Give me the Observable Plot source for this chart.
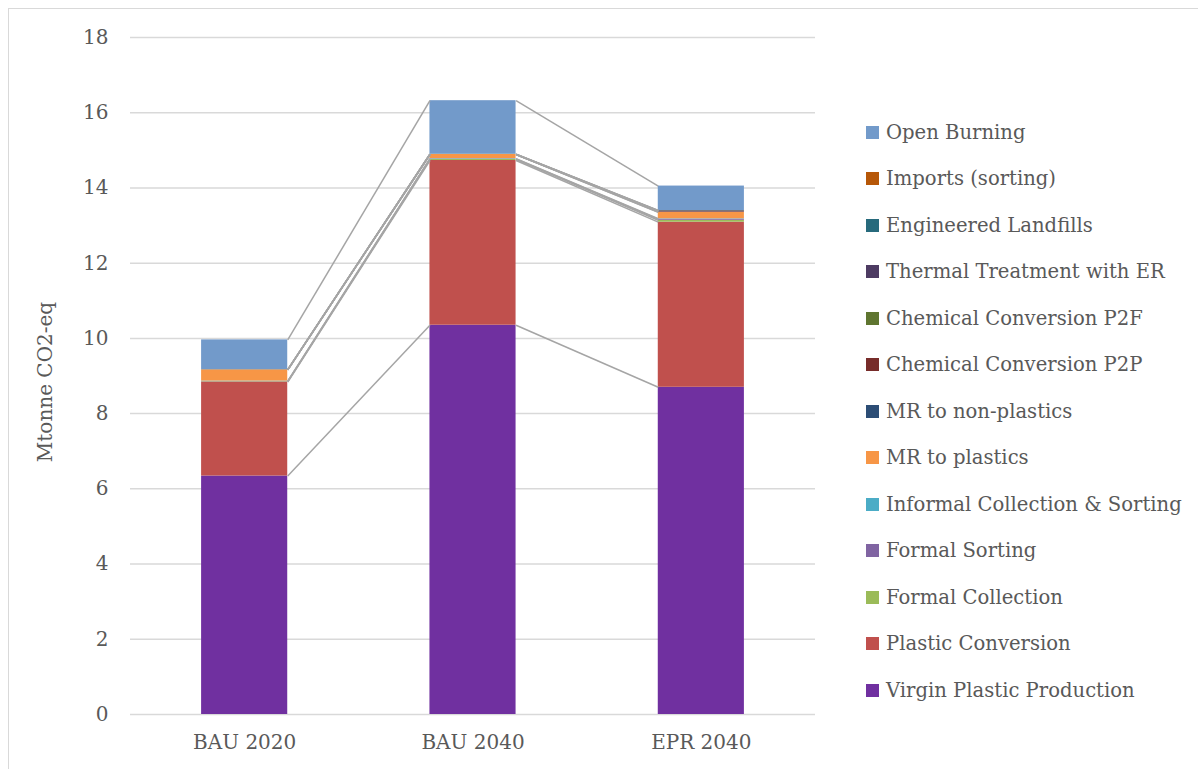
<!DOCTYPE html>
<html>
<head>
<meta charset="utf-8">
<script src="https://cdn.jsdelivr.net/npm/d3@7"></script>
<script src="https://cdn.jsdelivr.net/npm/@observablehq/plot@0.6"></script>
<style>
  html, body { margin: 0; padding: 0; background: #fff; }
  body { width: 1198px; height: 769px; position: relative; overflow: hidden; font-family: "DejaVu Serif", serif; }
  #frame { position: absolute; left: 8px; top: 8px; width: 1300px; height: 900px; border: 1px solid #d9d9d9; box-sizing: border-box; }
  #chart { position: absolute; left: 0; top: 0; }
  #legend { position: absolute; left: 0; top: 0; }
  .item { position: absolute; display: flex; align-items: center; white-space: nowrap; color: #595959; font-size: 19.6px; height: 26px; }
  .sw { width: 13px; height: 13px; margin-right: 7px; flex: none; }
</style>
</head>
<body>
<div id="frame"></div>
<div id="chart"></div>
<div id="legend"></div>
<script>
// ---- data ----
const categories = ["BAU 2020", "BAU 2040", "EPR 2040"];
const seriesNames = [
  "Virgin Plastic Production",
  "Plastic Conversion",
  "Formal Collection",
  "Formal Sorting",
  "Informal Collection & Sorting",
  "MR to plastics",
  "MR to non-plastics",
  "Chemical Conversion P2P",
  "Chemical Conversion P2F",
  "Thermal Treatment with ER",
  "Engineered Landfills",
  "Imports (sorting)",
  "Open Burning"
];
const virginPlasticProduction = [6.34, 10.35, 8.70];
const plasticConversion       = [2.50, 4.38, 4.39];
const formalCollection        = [0.01, 0.03, 0.05];
const formalSorting           = [0.005, 0.01, 0.03];
const informalCollection      = [0.01, 0.01, 0.01];
const mrToPlastics            = [0.30, 0.11, 0.17];
const mrToNonPlastics         = [0.0, 0.0, 0.01];
const chemicalP2P             = [0.0, 0.0, 0.03];
const chemicalP2F             = [0.0, 0.0, 0.0];
const thermalTreatmentER      = [0.0, 0.0, 0.0];
const engineeredLandfills     = [0.005, 0.01, 0.01];
const importsSorting          = [0.0, 0.0, 0.0];
const openBurning             = [0.79, 1.42, 0.65];
const seriesValues = [
  virginPlasticProduction, plasticConversion, formalCollection, formalSorting,
  informalCollection, mrToPlastics, mrToNonPlastics, chemicalP2P, chemicalP2F,
  thermalTreatmentER, engineeredLandfills, importsSorting, openBurning
];
const seriesColors = [
  "#7030a0", "#c0504d", "#9bbb59", "#8064a2", "#4bacc6", "#f79646",
  "#2c4d75", "#772c2a", "#5f7530", "#4d3b62", "#276a7c", "#b65708", "#729aca"
];
const yTicks = [0, 2, 4, 6, 8, 10, 12, 14, 16, 18];
const yLabel = "Mtonne CO2-eq";

// ---- derived tables ----
const barHalf = 0.1886; // half bar width, in category steps
const rects = [];
const tops = categories.map(() => []);
categories.forEach((c, i) => {
  let acc = 0;
  seriesNames.forEach((s, k) => {
    const v = seriesValues[k][i];
    rects.push({cat: i, series: s, y1: acc, y2: acc + v});
    acc += v;
    tops[i][k] = acc;
  });
});
const links = [];
seriesNames.forEach((s, k) => {
  for (let i = 0; i < categories.length - 1; i++) {
    links.push({x1: i + barHalf, y1: tops[i][k], x2: i + 1 - barHalf, y2: tops[i + 1][k]});
  }
});

const plot = Plot.plot({
  width: 1198,
  height: 769,
  marginTop: 37,
  marginBottom: 55,
  marginLeft: 130,
  marginRight: 383,
  style: {fontFamily: '"DejaVu Serif", serif', fontSize: "20px", color: "#595959", background: "transparent"},
  x: {type: "linear", domain: [-0.5, categories.length - 0.5], axis: null},
  y: {domain: [0, 18], axis: null},
  color: {domain: seriesNames, range: seriesColors},
  marks: [
    Plot.ruleY(yTicks, {stroke: "#d9d9d9", strokeWidth: 1.5}),
    Plot.rectY(rects, {x1: d => d.cat - barHalf, x2: d => d.cat + barHalf, y1: "y1", y2: "y2", fill: "series", inset: 0}),
    Plot.link(links, {x1: "x1", y1: "y1", x2: "x2", y2: "y2", stroke: "#a5a5a5", strokeWidth: 1.5}),
    Plot.axisY({ticks: yTicks, tickSize: 0, tickPadding: 22, fill: "#595959", fontSize: 20}),
    Plot.axisX({ticks: categories.map((c, i) => i), tickFormat: i => categories[i], tickSize: 0, tickPadding: 20, fill: "#595959", fontSize: 20}),
    Plot.text([yLabel], {frameAnchor: "left", textAnchor: "middle", rotate: -90, dx: -85, dy: 6, fill: "#595959", fontSize: 20})
  ]
});
document.getElementById("chart").appendChild(plot);

// ---- legend (reverse order, like the reference) ----
const legend = document.getElementById("legend");
seriesNames.slice().reverse().forEach((s, j) => {
  const k = seriesNames.indexOf(s);
  const item = document.createElement("div");
  item.className = "item";
  item.style.left = "866px";
  item.style.top = (132 - 13 + j * 46.5) + "px";
  const sw = document.createElement("span");
  sw.className = "sw";
  sw.style.background = seriesColors[k];
  const t = document.createElement("span");
  t.textContent = s;
  item.appendChild(sw);
  item.appendChild(t);
  legend.appendChild(item);
});
</script>
</body>
</html>
